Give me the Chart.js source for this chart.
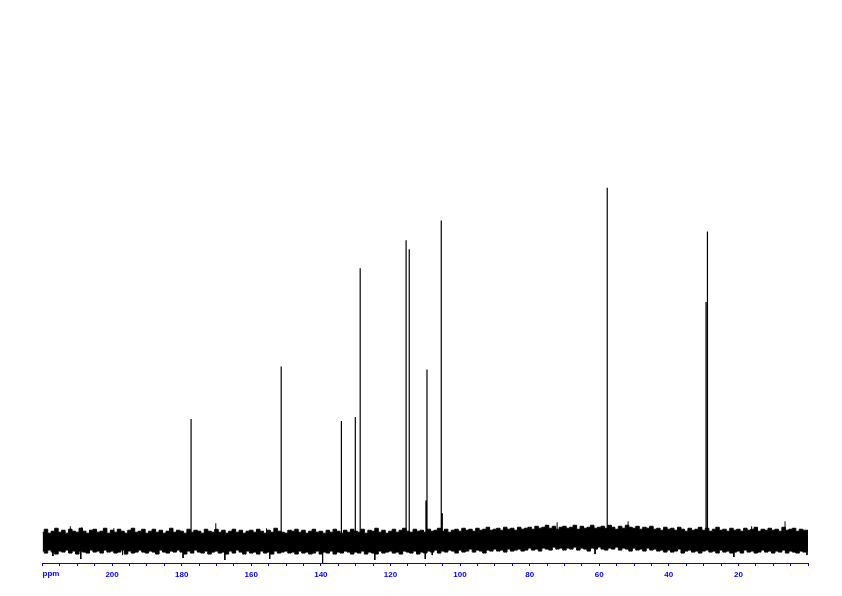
<!DOCTYPE html>
<html>
<head>
<meta charset="utf-8">
<script src="https://cdn.jsdelivr.net/npm/chart.js@4/dist/chart.umd.min.js"></script>
<style>
  body { margin: 0; background: #fff; }
  canvas { display: block; }
</style>
</head>
<body>
<canvas id="spectrum" width="842" height="596"></canvas>
<script>
// Peak positions (ppm) and heights (arbitrary intensity units)
const peakPpm    = [177.3, 151.4, 134.1, 130.1, 128.7, 115.5, 114.6, 109.8, 109.5, 105.4, 105.1, 57.7, 29.3, 28.9];
const peakHeight = [123,   176,   121,   125,   275,   303,   294,   41,    173,   323,   28,    356,  241,  312];

// Noise band envelope, every 1 ppm from 220 down to 0
const noisePpm = [];
for (let p = 220; p >= 0; p -= 1) noisePpm.push(p);
const noiseTop = [
  9, 12, 8, 10, 13, 9, 11, 8, 12, 10,
  9, 13, 10, 8, 11, 12, 9, 10, 13, 8,
  11, 9, 12, 10, 8, 11, 13, 9, 10, 12,
  8, 10, 12, 9, 11, 8, 10, 13, 9, 11,
  10, 8, 12, 9, 11, 10, 8, 12, 10, 9,
  12, 9, 11, 8, 10, 12, 9, 11, 8, 10,
  11, 9, 12, 10, 8, 11, 9, 13, 10, 9,
  8, 11, 10, 12, 9, 11, 8, 10, 12, 9,
  10, 8, 11, 9, 12, 10, 8, 11, 9, 12,
  10, 9, 12, 8, 11, 10, 13, 9, 11, 8,
  10, 12, 9, 11, 13, 10, 9, 12, 10, 11,
  9, 12, 10, 11, 13, 10, 12, 9, 11, 12,
  10, 13, 11, 12, 10, 13, 11, 12, 14, 11,
  12, 13, 11, 14, 12, 13, 11, 14, 12, 13,
  14, 12, 15, 13, 14, 16, 13, 15, 12, 14,
  15, 13, 14, 16, 12, 15, 13, 14, 16, 13,
  14, 15, 13, 16, 14, 12, 15, 13, 16, 14,
  13, 15, 12, 14, 13, 15, 12, 13, 11, 14,
  12, 13, 11, 14, 12, 10, 13, 11, 12, 14,
  11, 13, 10, 12, 14, 11, 12, 10, 13, 11,
  12, 10, 13, 11, 12, 14, 10, 12, 11, 13,
  11, 12, 10, 14, 11, 12, 13, 10, 12, 11,
  11
];
const noiseBottom = [
  -10, -12, -9, -11, -13, -10, -11, -9, -12, -10,
  -13, -10, -11, -12, -9, -11, -10, -12, -9, -11,
  -10, -12, -11, -9, -13, -10, -12, -11, -9, -11,
  -12, -10, -11, -13, -9, -11, -12, -10, -11, -9,
  -11, -13, -10, -12, -9, -11, -12, -10, -13, -11,
  -10, -12, -11, -13, -10, -12, -9, -11, -13, -10,
  -12, -11, -13, -10, -12, -11, -13, -10, -12, -11,
  -10, -12, -11, -13, -10, -12, -11, -13, -12, -10,
  -13, -11, -12, -10, -13, -11, -12, -10, -11, -13,
  -11, -12, -10, -13, -11, -12, -13, -10, -12, -11,
  -10, -12, -11, -13, -10, -11, -12, -10, -13, -11,
  -12, -10, -11, -9, -12, -10, -11, -9, -10, -12,
  -9, -11, -10, -8, -11, -9, -10, -12, -9, -10,
  -8, -10, -9, -11, -8, -10, -9, -8, -10, -9,
  -7, -9, -8, -10, -7, -8, -9, -6, -8, -7,
  -9, -7, -8, -6, -9, -7, -8, -10, -7, -8,
  -6, -8, -9, -7, -8, -6, -9, -7, -8, -10,
  -7, -9, -8, -10, -7, -9, -8, -10, -9, -11,
  -9, -11, -10, -8, -12, -10, -9, -11, -10, -12,
  -10, -9, -11, -10, -12, -9, -11, -10, -12, -11,
  -10, -12, -9, -11, -10, -12, -11, -9, -11, -10,
  -12, -10, -11, -9, -12, -10, -11, -12, -10, -11,
  -10
];

// Single noise spikes sticking out of the band
const spikePpm   = [217, 212, 209, 208.7, 199.5, 197, 179.6, 170.2, 167.6, 155.6, 154.7, 139.5, 124.5, 110, 108, 72.1, 61.2, 51.7, 21.3, 16.2, 6.6, 0.3];
const spikeValue = [-15, 15, -18, 14, 13, -14, -17, 18, -19, 13, -18, -22, -19, -18, -14, 19, -13, 20, -16, 15, 20, -14];

// Build vertical strokes separated by gaps
function strokes(xs, ys) {
  const pts = [];
  xs.forEach((x, i) => {
    pts.push({x: x, y: 0}, {x: x, y: ys[i]}, {x: x, y: null});
  });
  return pts;
}

const ppmLabel = {
  id: 'ppmLabel',
  afterDraw(chart) {
    const c = chart.ctx;
    const xs = chart.scales.x;
    c.save();
    c.fillStyle = '#0000ff';
    c.font = 'bold 8px "Liberation Sans"';
    c.textAlign = 'left';
    c.textBaseline = 'top';
    c.fillText('ppm', xs.getPixelForValue(220), xs.top + 7);
    c.restore();
  }
};

const ctx = document.getElementById('spectrum').getContext('2d');
new Chart(ctx, {
  type: 'scatter',
  data: {
    datasets: [
      {
        data: noisePpm.map((p, i) => ({x: p, y: noiseTop[i]})),
        showLine: true, stepped: 'middle', borderColor: '#000', borderWidth: 1, pointRadius: 0,
        fill: '+1', backgroundColor: '#000'
      },
      {
        data: noisePpm.map((p, i) => ({x: p, y: noiseBottom[i]})),
        showLine: true, stepped: 'middle', borderColor: '#000', borderWidth: 1, pointRadius: 0
      },
      {
        data: strokes(spikePpm, spikeValue),
        showLine: true, spanGaps: false, borderColor: '#000', borderWidth: 1, pointRadius: 0
      },
      {
        data: strokes(peakPpm, peakHeight),
        showLine: true, spanGaps: false, borderColor: '#000', borderWidth: 1.2, pointRadius: 0
      }
    ]
  },
  options: {
    responsive: false,
    animation: false,
    layout: { padding: { left: 42.5, right: 34, top: 10, bottom: 12.4 } },
    plugins: { legend: { display: false }, tooltip: { enabled: false } },
    scales: {
      x: {
        type: 'linear',
        reverse: true,
        min: 0,
        max: 220,
        grid: { drawOnChartArea: false, drawTicks: true, tickLength: 3, color: '#0000ff' },
        border: { color: '#0000ff' },
        ticks: {
          stepSize: 5,
          autoSkip: false,
          maxRotation: 0,
          padding: 4,
          color: '#0000ff',
          font: { family: 'Liberation Sans', size: 8, weight: 'bold' },
          callback: (v) => (v % 20 === 0 && v > 0 && v < 220) ? String(v) : ''
        }
      },
      y: { display: false, min: -22, max: 535 }
    }
  },
  plugins: [ppmLabel]
});
</script>
</body>
</html>
